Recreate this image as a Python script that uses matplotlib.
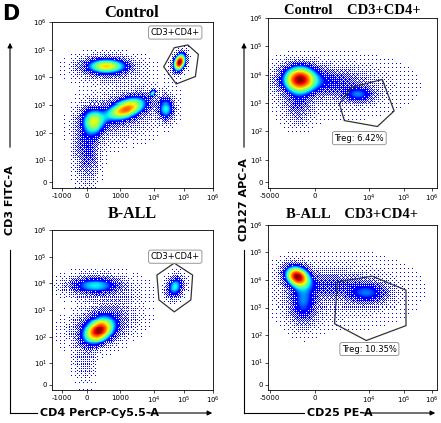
import numpy as np
import matplotlib
matplotlib.use("Agg")
import matplotlib.pyplot as plt
from matplotlib.patches import Polygon, FancyArrowPatch

# ---- axis tick definitions (display units) ----
left_xticks_pos = [0, 1, 2.3, 3.65, 4.85, 6.0]
left_xticks_lab = ["-1000", "0", "1000", "$10^4$", "$10^5$", "$10^6$"]
right_xticks_pos = [0, 1.29, 2.86, 3.86, 4.66]
right_xticks_lab = ["-5000", "0", "$10^4$", "$10^5$", "$10^6$"]
yticks_pos = [0.2, 1, 2, 3, 4, 5, 6]
yticks_lab = ["0", "$10^1$", "$10^2$", "$10^3$", "$10^4$", "$10^5$", "$10^6$"]

# ---- populations: (x, y, sx, sy, rho, weight) ----
pops_ctrl_cd3cd4 = [
    (1.75, 4.38, 0.50, 0.17, 0.0, 0.55),
    (4.68, 4.52, 0.15, 0.20, 0.3, 1.0),
    (2.55, 2.85, 0.50, 0.25, 0.5, 0.70),
    (1.25, 2.40, 0.30, 0.30, 0.0, 0.50),
    (3.60, 3.40, 0.08, 0.08, 0.5, 0.40),
    (4.15, 2.85, 0.20, 0.25, 0.0, 0.38),
    (1.00, 1.40, 0.30, 0.70, 0.0, 0.18),
    (2.40, 2.70, 1.00, 0.60, 0.3, 0.10),
    (1.80, 4.30, 0.80, 0.30, 0.0, 0.12),
]
pops_ball_cd3cd4 = [
    (1.30, 3.90, 0.60, 0.20, 0.0, 0.35),
    (4.50, 3.85, 0.20, 0.25, 0.2, 0.45),
    (1.45, 2.20, 0.38, 0.30, 0.3, 1.0),
    (1.70, 2.60, 0.80, 0.55, 0.3, 0.15),
    (0.90, 1.10, 0.30, 0.60, 0.0, 0.06),
    (1.40, 3.90, 0.90, 0.30, 0.0, 0.08),
]
pops_ctrl_treg = [
    (0.85, 3.85, 0.30, 0.30, 0.0, 1.0),
    (1.60, 3.75, 0.65, 0.28, 0.0, 0.18),
    (2.55, 3.30, 0.28, 0.18, 0.0, 0.30),
    (0.80, 3.00, 0.25, 0.45, 0.0, 0.15),
    (1.80, 3.60, 1.20, 0.60, 0.0, 0.06),
]
pops_ball_treg = [
    (0.78, 4.10, 0.22, 0.24, -0.2, 1.0),
    (0.95, 3.20, 0.25, 0.50, 0.0, 0.30),
    (1.70, 3.80, 0.55, 0.28, 0.0, 0.12),
    (2.80, 3.50, 0.38, 0.25, 0.0, 0.28),
    (1.90, 3.60, 1.20, 0.70, 0.0, 0.06),
]

# ---- gates (display units) ----
gate_tl = [(4.04, 4.38), (4.46, 5.07), (5.0, 5.17), (5.42, 4.83), (5.3, 4.03), (4.54, 3.76)]
gate_bl = [(3.77, 4.31), (4.46, 4.76), (5.19, 4.31), (5.12, 3.38), (4.46, 2.93), (3.85, 3.38)]
gate_tr = [(2.0, 2.97), (2.34, 3.55), (3.23, 3.83), (3.57, 2.72), (3.09, 2.17), (2.14, 2.38)]
gate_br = [(1.94, 3.93), (2.94, 4.14), (3.91, 3.63), (3.91, 2.34), (2.77, 1.80), (1.86, 2.41)]
labels = ["CD3+CD4+", "CD3+CD4+", "Treg: 6.42%", "Treg: 10.35%"]
label_pos = [(4.5, 5.62), (4.5, 5.0), (2.57, 1.76), (2.86, 1.49)]

W, H = 441, 423
fig = plt.figure(figsize=(W / 100, H / 100), dpi=100)

def ax_px(l, t, r, b):
    return fig.add_axes([l / W, 1 - b / H, (r - l) / W, (b - t) / H])

# ordered-dither threshold matrix (Bayer 4x4)
B4 = np.array([[0, 8, 2, 10], [12, 4, 14, 6], [3, 11, 1, 9], [15, 7, 13, 5]]) / 16.0 + 1 / 32

def density(pops, xlim, ylim, nx, ny):
    xs = np.linspace(*xlim, nx)
    ys = np.linspace(*ylim, ny)
    X, Y = np.meshgrid(xs, ys)
    Z = np.zeros_like(X)
    for (mx, my, sx, sy, rho, w) in pops:
        dx = (X - mx) / sx
        dy = (Y - my) / sy
        q = (dx * dx - 2 * rho * dx * dy + dy * dy) / (1 - rho * rho)
        Z += w * np.exp(-0.5 * q)
    return Z / Z.max()

def panel(ax, pops, xlim, ylim, xt, xl, gate, lab, lpos, npx):
    nx, ny = npx
    Z = density(pops, xlim, ylim, nx, ny)
    thr = 0.25
    T = np.tile(B4, (ny // 4 + 1, nx // 4 + 1))[:ny, :nx]
    keep = (Z >= thr) | ((Z / thr) ** 0.9 > T)
    C = 0.12 + 0.88 * np.clip((Z - thr) / (1 - thr), 0, 1) ** 0.75
    Cm = np.ma.masked_where(~keep, C)
    ax.imshow(Cm, origin="lower", extent=[*xlim, *ylim], aspect="auto",
              cmap="jet", vmin=0, vmax=1.0, interpolation="nearest")
    ax.set_xlim(xlim); ax.set_ylim(ylim)
    ax.set_xticks(xt); ax.set_xticklabels(xl, fontsize=5)
    ax.set_yticks(yticks_pos); ax.set_yticklabels(yticks_lab, fontsize=5)
    ax.tick_params(length=2, width=0.5, pad=1.5)
    for s in ax.spines.values():
        s.set_linewidth(0.6)
    ax.add_patch(Polygon(gate, closed=True, fill=False, ec="#333333", lw=0.9))
    ax.text(*lpos, lab, fontsize=6, ha="center", va="center",
            bbox=dict(boxstyle="round,pad=0.25", fc="white", ec="#888888", lw=0.6))

ax1 = ax_px(52, 22, 213, 188)
panel(ax1, pops_ctrl_cd3cd4, (-0.4, 5.8), (0.0, 6.0), left_xticks_pos, left_xticks_lab, gate_tl, labels[0], label_pos[0], (161, 166))
ax2 = ax_px(52, 230, 213, 390)
panel(ax2, pops_ball_cd3cd4, (-0.4, 5.8), (0.0, 5.25), left_xticks_pos, left_xticks_lab, gate_bl, labels[1], label_pos[1], (161, 160))
ax3 = ax_px(268, 18, 437, 188)
panel(ax3, pops_ctrl_treg, (-0.05, 4.8), (0.0, 6.0), right_xticks_pos, right_xticks_lab, gate_tr, labels[2], label_pos[2], (169, 170))
ax4 = ax_px(268, 225, 437, 390)
panel(ax4, pops_ball_treg, (-0.05, 4.8), (0.0, 6.0), right_xticks_pos, right_xticks_lab, gate_br, labels[3], label_pos[3], (169, 165))

serif = ["Liberation Serif", "DejaVu Serif"]
fig.text(2 / W, 1 - 14 / H, "D", fontsize=15, fontweight="bold", va="center", family="DejaVu Sans")
fig.text(132 / W, 1 - 13 / H, "Control", fontsize=12, fontweight="bold", ha="center", va="center", family=serif)
fig.text(132 / W, 1 - 214 / H, "B-ALL", fontsize=11.5, fontweight="bold", ha="center", va="center", family=serif)
fig.text(352 / W, 1 - 10 / H, "Control    CD3+CD4+", fontsize=10.5, fontweight="bold", ha="center", va="center", family=serif)
fig.text(352 / W, 1 - 214 / H, "B-ALL    CD3+CD4+", fontsize=10.5, fontweight="bold", ha="center", va="center", family=serif)

fig.text(10 / W, 1 - 200 / H, "CD3 FITC-A", fontsize=8, fontweight="bold", rotation=90, ha="center", va="center")
fig.text(244 / W, 1 - 200 / H, "CD127 APC-A", fontsize=8, fontweight="bold", rotation=90, ha="center", va="center")
fig.text(40 / W, 1 - 413 / H, "CD4 PerCP-Cy5.5-A", fontsize=8, fontweight="bold", ha="left", va="center")
fig.text(307 / W, 1 - 413 / H, "CD25 PE-A", fontsize=8, fontweight="bold", ha="left", va="center")

def arrow(x0, y0, x1, y1):
    fig.add_artist(FancyArrowPatch((x0 / W, 1 - y0 / H), (x1 / W, 1 - y1 / H),
                   transform=fig.transFigure, arrowstyle="-|>", mutation_scale=7, lw=0.8, color="black"))

def line(x0, y0, x1, y1):
    fig.add_artist(plt.Line2D([x0 / W, x1 / W], [1 - y0 / H, 1 - y1 / H], transform=fig.transFigure, lw=0.8, color="black"))

arrow(10, 150, 10, 40)
line(10, 250, 10, 413)
line(10, 413, 37, 413)
arrow(146, 413, 215, 413)
arrow(244, 150, 244, 40)
line(244, 250, 244, 413)
line(244, 413, 304, 413)
arrow(360, 413, 438, 413)

fig.savefig("out.png", dpi=100)
